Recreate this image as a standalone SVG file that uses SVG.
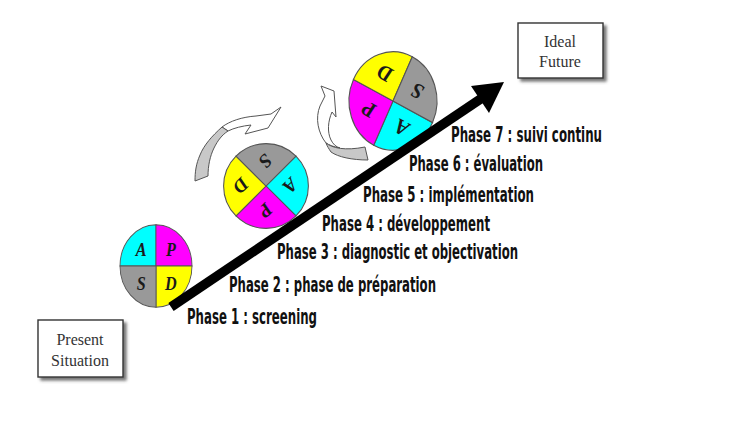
<svg xmlns="http://www.w3.org/2000/svg" width="750" height="427" viewBox="0 0 750 427">
<style>
.q{stroke:#555;stroke-width:1}
.lt{font-family:"Liberation Serif","Times New Roman",serif;font-weight:bold;font-style:italic;font-size:18px;fill:#1a1a1a;text-anchor:middle}
.box{fill:#fff;stroke:#333;stroke-width:1.4}
.bt{font-family:"Liberation Serif","Times New Roman",serif;font-size:16px;fill:#333;text-anchor:middle}
.ph{font-family:"Liberation Sans Narrow","DejaVu Sans Condensed","Liberation Sans",Arial,sans-serif;font-weight:bold;font-size:22px;fill:#111}
.ca{stroke:#555;stroke-width:1;stroke-linejoin:round}
</style>
<defs>
<filter id="sh" x="-20%" y="-20%" width="150%" height="150%">
<feDropShadow dx="3" dy="3" stdDeviation="1.5" flood-color="#555" flood-opacity="0.8"/>
</filter>
<g id="wheel">
<path class="q" fill="#00ffff" d="M0,0 L-40,0 A40,40 0 0 1 0,-40 Z"/>
<path class="q" fill="#ff00ff" d="M0,0 L0,-40 A40,40 0 0 1 40,0 Z"/>
<path class="q" fill="#ffff00" d="M0,0 L40,0 A40,40 0 0 1 0,40 Z"/>
<path class="q" fill="#999999" d="M0,0 L0,40 A40,40 0 0 1 -40,0 Z"/>
<text class="lt" x="-16.5" y="-10">A</text>
<text class="lt" x="16.5" y="-10">P</text>
<text class="lt" x="-16.5" y="23">S</text>
<text class="lt" x="16.5" y="23">D</text>
</g>
</defs>
<rect width="750" height="427" fill="#fff"/>

<g id="cycle-arrow-1">
<path class="ca" fill="#fff" d="M222,127 C230,121 242,117 256,116 L271,114 L281,107 L268,128 L245,134 L251,125 C242,126 234,128 228,131 Z"/>
<path class="ca" fill="#c8c8c8" d="M222,127 C212,136 204,145 200,155 C196,164 195,172 195,181 L208,176 C208,166 210,156 214,148 C218,140 222,135 228,131 Z"/>
</g>
<g id="cycle-arrow-2">
<path class="ca" fill="#fff" d="M326,143 C318,133 315,118 320,106 L325,96 L321,86 L334,91 L336,117 L332,112 C328,121 327,132 331,140 C333,144 336,147 340,148 C334,147 329,145 326,143 Z"/>
<path class="ca" fill="#c8c8c8" d="M326,143 C332,148 345,151 365,147 L368,160 C352,160 338,157 331,152 C329,149 327,146 326,143 Z"/>
</g>

<g id="pdsa-1"><use href="#wheel" transform="translate(156,266) scale(0.9,1.03)"/></g>
<g id="pdsa-2"><use href="#wheel" transform="translate(266,186) rotate(135) scale(1.06)"/></g>
<g id="pdsa-3"><use href="#wheel" transform="translate(393,101) scale(1.1,1.23) rotate(206)"/></g>

<g id="connectors">
<line x1="171" y1="307" x2="482" y2="98" stroke="#000" stroke-width="9.5"/>
<polygon points="504,82 471,86 489,113" fill="#000"/>
</g>

<g id="present-situation">
<rect class="box" x="38" y="320" width="85" height="57" filter="url(#sh)"/>
<text class="bt" x="80" y="345">Present</text>
<text class="bt" x="80" y="366">Situation</text>
</g>
<g id="ideal-future">
<rect class="box" x="518" y="23" width="85" height="55" filter="url(#sh)"/>
<text class="bt" x="560" y="47">Ideal</text>
<text class="bt" x="560" y="67">Future</text>
</g>

<g id="phases">
<text class="ph" x="451" y="141.5" textLength="151" lengthAdjust="spacingAndGlyphs">Phase 7 : suivi continu</text>
<text class="ph" x="409" y="171" textLength="134" lengthAdjust="spacingAndGlyphs">Phase 6 : évaluation</text>
<text class="ph" x="363" y="201.5" textLength="171" lengthAdjust="spacingAndGlyphs">Phase 5 : implémentation</text>
<text class="ph" x="322" y="230.5" textLength="168" lengthAdjust="spacingAndGlyphs">Phase 4 : développement</text>
<text class="ph" x="277" y="259" textLength="241" lengthAdjust="spacingAndGlyphs">Phase 3 : diagnostic et objectivation</text>
<text class="ph" x="229" y="292" textLength="207" lengthAdjust="spacingAndGlyphs">Phase 2 : phase de préparation</text>
<text class="ph" x="187" y="323.5" textLength="130" lengthAdjust="spacingAndGlyphs">Phase 1 : screening</text>
</g>
</svg>
